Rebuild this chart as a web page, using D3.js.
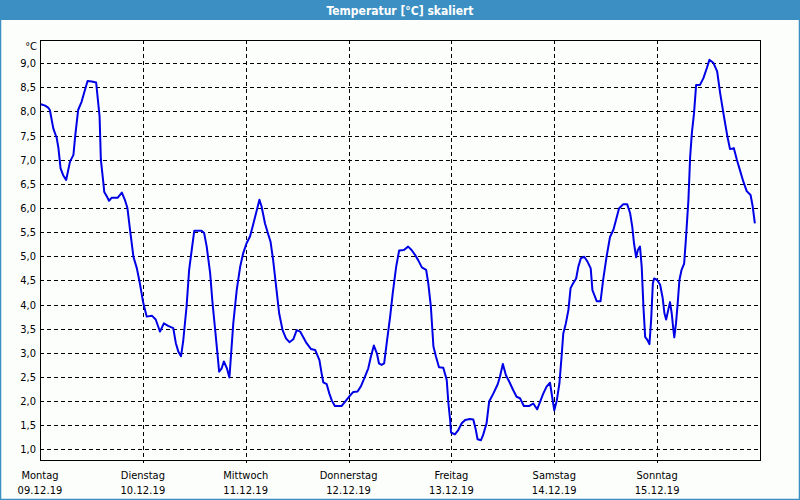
<!DOCTYPE html>
<html><head><meta charset="utf-8">
<script src="https://cdn.jsdelivr.net/npm/d3@7"></script>
<style>
html,body{margin:0;padding:0;background:#fcfefc;}
svg{display:block;}
</style></head>
<body>
<svg id="c" width="800" height="500"></svg>
<script>
const title = "Temperatur [°C] skaliert";
const unitLabel = "°C";
const dayNames = ["Montag","Dienstag","Mittwoch","Donnerstag","Freitag","Samstag","Sonntag"];
const dayDates = ["09.12.19","10.12.19","11.12.19","12.12.19","13.12.19","14.12.19","15.12.19"];
const yTicks = [1.0,1.5,2.0,2.5,3.0,3.5,4.0,4.5,5.0,5.5,6.0,6.5,7.0,7.5,8.0,8.5,9.0];
// hours since Monday 00:00
const hours = [0.2,1.2,1.9,2.3,3.1,3.9,4.3,4.8,5.4,6.1,7.0,7.8,8.2,8.9,9.7,10.5,11.1,12.1,13.1,13.9,14.2,14.8,15.0,15.6,16.1,16.7,18.1,19.1,19.8,20.4,21.0,21.8,22.6,23.3,24.1,24.9,26.1,27.0,27.6,28.0,28.9,29.9,31.1,31.7,32.3,32.9,33.4,34.2,34.8,35.4,36.0,37.7,38.3,38.9,39.7,40.2,40.8,41.4,41.8,
42.4,42.9,43.6,44.2,44.6,45.1,45.9,46.7,47.4,48.2,49.0,49.8,50.6,51.2,51.7,52.5,53.3,53.8,54.4,55.1,55.8,56.6,57.4,58.2,59.1,59.9,60.7,61.4,62.2,63.2,64.2,65.2,65.7,66.1,66.9,67.5,68.1,68.8,70.4,71.2,72.2,73.1,74.1,74.9,75.8,76.6,77.2,77.9,78.6,79.1,79.7,80.3,80.9,81.7,82.3,83.1,83.8,84.9,85.9,86.7,87.5,88.3,89.1,90.1,90.6,91.2,91.8,92.4,93.1,94.1,94.9,95.3,95.7,95.9,96.8,97.6,98.4,99.2,100.3,101.1,101.7,102.1,102.9,103.4,104.2,104.8,105.8,106.8,107.3,108.0,108.7,109.5,110.4,111.2,112.0,112.9,114.2,115.1,116.0,116.7,117.4,118.2,119.0,119.5,120.0,120.6,121.2,121.7,122.1,122.7,123.3,123.8,124.4,125.1,125.6,126.2,127.0,127.8,128.5,128.9,129.9,130.8,131.4,132.2,133.0,133.8,134.4,135.1,136.1,137.0,137.7,138.2,138.6,139.1,139.5,140.0,140.4,140.8,141.2,141.7,142.2,142.6,143.0,143.3,144.0,144.7,145.3,145.7,146.1,146.6,147.0,147.4,147.8,148.0,148.4,148.8,149.2,149.7,150.3,150.7,151.3,151.7,152.1,152.6,153.1,154.0,154.8,155.6,156.2,157.1,158.0,158.7,159.6,160.4,161.0,161.9,162.6,163.3,164.1,164.9,165.8,166.3,166.8];
const temps = [8.15,8.12,8.08,8.03,7.65,7.45,7.24,6.82,6.68,6.58,6.96,7.1,7.48,8.03,8.2,8.45,8.63,8.62,8.6,7.9,7.0,6.51,6.33,6.24,6.15,6.21,6.21,6.32,6.17,6.0,5.55,4.99,4.75,4.44,4.03,3.75,3.77,3.69,3.54,3.44,3.61,3.56,3.51,3.2,3.02,2.93,3.23,3.96,4.72,5.13,5.53,5.53,5.48,5.2,4.65,4.09,3.54,2.99,2.61,
2.68,2.82,2.68,2.49,2.99,3.61,4.3,4.78,5.06,5.27,5.41,5.68,5.96,6.17,6.03,5.68,5.44,5.3,4.92,4.37,3.82,3.47,3.3,3.22,3.28,3.47,3.44,3.33,3.2,3.08,3.06,2.85,2.58,2.39,2.35,2.16,2.01,1.9,1.9,1.99,2.1,2.19,2.2,2.31,2.5,2.68,2.92,3.15,2.99,2.78,2.75,2.78,3.2,3.75,4.23,4.78,5.12,5.13,5.2,5.13,5.03,4.91,4.77,4.72,4.44,3.96,3.13,2.92,2.7,2.69,2.44,1.95,1.61,1.35,1.31,1.4,1.54,1.61,1.63,1.62,1.4,1.21,1.19,1.3,1.54,1.99,2.16,2.35,2.5,2.77,2.54,2.4,2.23,2.09,2.06,1.9,1.9,1.95,1.83,1.99,2.15,2.3,2.38,2.09,1.81,2.02,2.37,2.92,3.4,3.61,3.89,4.34,4.44,4.54,4.78,4.96,4.99,4.88,4.75,4.3,4.07,4.07,4.51,4.99,5.4,5.55,5.75,5.99,6.08,6.08,5.89,5.61,5.27,4.98,5.13,5.2,4.78,3.96,3.33,3.27,3.18,3.68,4.44,4.54,4.51,4.41,4.13,3.82,3.69,3.89,4.05,3.82,3.47,3.32,3.61,4.03,4.51,4.72,4.85,5.34,6.17,7.06,7.55,7.96,8.55,8.55,8.69,8.9,9.07,9.01,8.83,8.38,7.89,7.48,7.22,7.24,7.0,6.79,6.55,6.35,6.27,6.03,5.68];

const W = 800, H = 500;
const m = {l:40, r:760, t:40, b:460};
const svg = d3.select("#c");
const font = "'DejaVu Sans Condensed','DejaVu Sans',sans-serif";

// page frame
svg.append("rect").attr("x",0.5).attr("y",0.5).attr("width",W-1).attr("height",H-1)
  .attr("fill","#fcfefc").attr("stroke","#3b8fc3").attr("stroke-width",1.5);
svg.append("rect").attr("x",0).attr("y",0).attr("width",W).attr("height",20).attr("fill","#3b8fc3");
svg.append("text").attr("x",W/2).attr("y",14.5).attr("text-anchor","middle")
  .attr("fill","#ffffff").attr("font-family",font).attr("font-weight","bold").attr("font-size","12px")
  .text(title);

const x = d3.scaleLinear().domain([0, 7*24]).range([m.l, m.r]);
const y = d3.scaleLinear().domain([0.78, 9.48]).range([m.b, m.t]);

const g = svg.append("g");
// horizontal grid
g.selectAll("line.hg").data(yTicks).join("line").attr("class","hg")
  .attr("x1",m.l).attr("x2",m.r)
  .attr("y1",d=>Math.round(y(d))+0.5).attr("y2",d=>Math.round(y(d))+0.5)
  .attr("stroke","#000").attr("stroke-width",1).attr("stroke-dasharray","4,3").attr("shape-rendering","crispEdges");
// vertical grid
const dayIdx = d3.range(1, dayNames.length);
g.selectAll("line.vg").data(dayIdx).join("line").attr("class","vg")
  .attr("x1",d=>Math.round(x(d*24))+0.5).attr("x2",d=>Math.round(x(d*24))+0.5)
  .attr("y1",m.t).attr("y2",m.b+3)
  .attr("stroke","#000").attr("stroke-width",1).attr("stroke-dasharray","4,3").attr("shape-rendering","crispEdges");

// frame of plot
g.append("rect").attr("x",m.l+0.5).attr("y",m.t+0.5).attr("width",m.r-m.l).attr("height",m.b-m.t)
  .attr("fill","none").attr("stroke","#000").attr("stroke-width",1).attr("shape-rendering","crispEdges");

// y labels
g.selectAll("text.yl").data(yTicks).join("text").attr("class","yl")
  .attr("x",36).attr("y",d=>y(d)+4).attr("text-anchor","end")
  .attr("font-family",font).attr("font-size","11px").attr("fill","#000")
  .text(d=>d3.format(".1f")(d).replace(".",","));
g.append("text").attr("x",37).attr("y",50).attr("text-anchor","end")
  .attr("font-family",font).attr("font-size","11px").attr("fill","#000").text(unitLabel);

// x labels
const xl = g.selectAll("g.xl").data(dayNames).join("g").attr("class","xl")
  .attr("transform",(d,i)=>`translate(${x(i*24)},0)`);
xl.append("text").attr("y",479).attr("text-anchor","middle")
  .attr("font-family",font).attr("font-size","11px").attr("fill","#000").text(d=>d);
xl.append("text").attr("y",494).attr("text-anchor","middle")
  .attr("font-family",font).attr("font-size","11px").attr("fill","#000").attr("letter-spacing","0.1px")
  .text((d,i)=>dayDates[i]);

// line
const pts = hours.map((h,i)=>[h,temps[i]]);
svg.append("path").datum(pts)
  .attr("d", d3.line().x(d=>x(d[0])).y(d=>y(d[1])))
  .attr("fill","none").attr("stroke","#0000e6").attr("stroke-width",2).attr("stroke-linejoin","round");
</script>
</body></html>
